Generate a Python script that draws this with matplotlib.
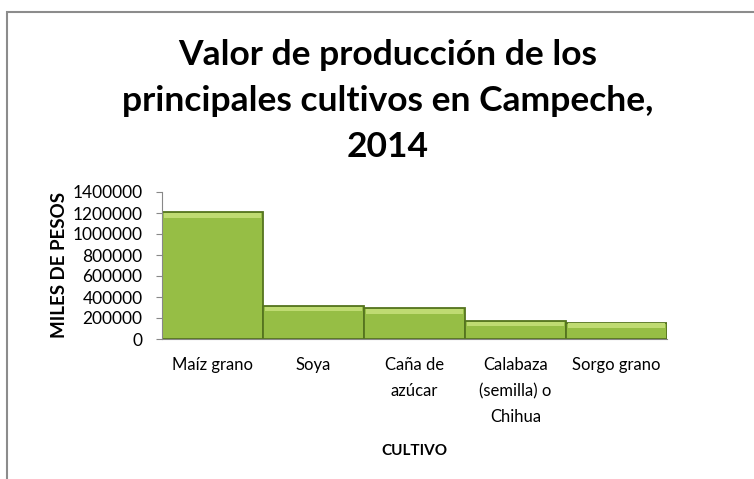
import numpy as np
import matplotlib
matplotlib.use("Agg")
import matplotlib.pyplot as plt
from matplotlib.patches import Rectangle

plt.rcParams['font.family'] = ['Lato', 'DejaVu Sans']

# datos
cultivos = ["Maíz grano", "Soya", "Caña de\nazúcar", "Calabaza\n(semilla) o\nChihua", "Sorgo grano"]
valores = [1210000, 315000, 292000, 174000, 156000]
yticks = [0, 200000, 400000, 600000, 800000, 1000000, 1200000, 1400000]

fig = plt.figure(figsize=(7.54, 4.79), dpi=100)
ax = fig.add_axes([162 / 754, 1 - 339 / 479, 505 / 754, 147 / 479])

x = np.arange(len(cultivos))
ax.bar(x, valores, width=1.0, color="#96BE45", edgecolor="#55741F", linewidth=1.3, zorder=2)
# franja clara superior (bisel)
alto = np.full(len(valores), 45000)
ax.bar(x, alto, bottom=np.array(valores) - alto - 8000, width=0.97, color="#BFDB72",
       edgecolor="none", zorder=3)

ax.set_xlim(-0.5, len(cultivos) - 0.5)
ax.set_ylim(0, 1400000)
ax.set_yticks(yticks)
ax.set_yticklabels([str(v) for v in yticks], fontsize=12.5)
ax.set_xticks(x)
ax.set_xticklabels(cultivos, fontsize=12, linespacing=1.75, va="top")
ax.tick_params(axis="x", length=0, pad=13)
ax.tick_params(axis="y", length=4, color="#888888", pad=10)

for s in ["top", "right"]:
    ax.spines[s].set_visible(False)
ax.spines["left"].set_color("#888888")
ax.spines["bottom"].set_color("#888888")

ax.set_ylabel("MILES DE PESOS", fontsize=13.5, fontweight="bold", labelpad=3)
fig.text(414 / 754, 1 - 451 / 479, "CULTIVO", fontsize=11, fontweight="bold",
         ha="center", va="center")

fig.text(388 / 754, 1 - 101 / 479,
         "Valor de producción de los\nprincipales cultivos en Campeche,\n2014",
         fontsize=25.5, fontweight="bold", ha="center", va="center", linespacing=1.52)

# marco del area del grafico
fig.patches.append(Rectangle((7 / 754, -0.1), 1.2, 1 - 12 / 479 + 0.1,
                             transform=fig.transFigure, fill=False,
                             edgecolor="#8C8C8C", linewidth=1.5))

fig.savefig("out.png", dpi=100)
